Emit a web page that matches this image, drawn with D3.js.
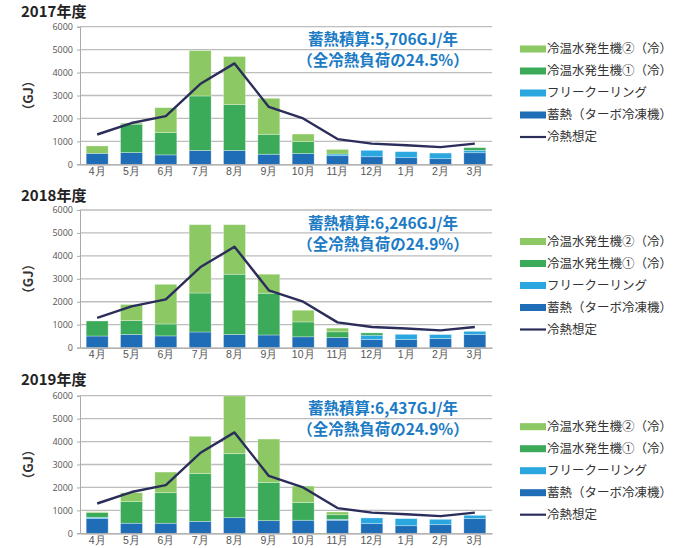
<!DOCTYPE html>
<html><head><meta charset="utf-8">
<script src="https://cdn.jsdelivr.net/npm/d3@7"></script>
<style>
html,body{margin:0;padding:0;background:#fff;}
svg{display:block;font-family:"Noto Sans CJK JP","Noto Sans",sans-serif;}
</style></head>
<body>
<svg id="chart" width="684" height="548"></svg>
<script>
const months = ['4月','5月','6月','7月','8月','9月','10月','11月','12月','1月','2月','3月'];
const yTicks = [0,1000,2000,3000,4000,5000,6000];
const seriesNames = ['蓄熱（ターボ冷凍機）','フリークーリング','冷温水発生機①（冷）','冷温水発生機②（冷）'];
const legendLabels = ['冷温水発生機②（冷）','冷温水発生機①（冷）','フリークーリング','蓄熱（ターボ冷凍機）','冷熱想定'];
const lineName = '冷熱想定';

const years = ['2017年度','2018年度','2019年度'];
const totals = ['蓄熱積算:5,706GJ/年','蓄熱積算:6,246GJ/年','蓄熱積算:6,437GJ/年'];
const shares = ['（全冷熱負荷の24.5%）','（全冷熱負荷の24.9%）','（全冷熱負荷の24.9%）'];

// 2017
const storage2017 = [480,510,410,600,600,440,470,375,330,290,245,505];
const free2017    = [0,0,0,0,0,0,0,75,280,260,245,105];
const gen1_2017   = [0,1240,970,2380,2000,870,520,0,0,0,0,115];
const gen2_2017   = [320,50,1090,1980,2100,1570,330,200,0,0,0,0];
// 2018
const storage2018 = [505,570,510,680,570,550,470,440,350,350,395,570];
const free2018    = [0,0,0,0,0,0,0,0,190,230,175,140];
const gen1_2018   = [655,610,520,1700,2630,1820,650,250,100,0,0,0];
const gen2_2018   = [0,700,1730,2980,2160,830,510,160,0,0,0,0];
// 2019
const storage2019 = [640,440,440,520,680,550,570,570,420,330,375,640];
const free2019    = [60,0,0,0,0,0,0,40,250,310,235,145];
const gen1_2019   = [200,940,1330,2080,2790,1670,770,200,0,0,0,0];
const gen2_2019   = [40,390,900,1630,2520,1890,720,120,0,0,0,0];
// cooling demand estimate (same each year)
const demand = [1300,1800,2100,3500,4400,2500,2000,1100,900,830,750,900];

const panelsData = [
  [storage2017, free2017, gen1_2017, gen2_2017],
  [storage2018, free2018, gen1_2018, gen2_2018],
  [storage2019, free2019, gen1_2019, gen2_2019]
];

const colors = ['#1f6db6','#2aa7df','#3bab5a','#8cc863'];
const legendColors = ['#8cc863','#3bab5a','#2aa7df','#1f6db6'];
const lineColor = '#2b2d5a';

const svg = d3.select('#chart');
const plotTops = [26.7, 210, 395.7];
const plotH = 137.6;
const titleBase = [17, 200.5, 385];
const legendOffsets = [22.3, 31.5, 31];
const x0 = 80, x1 = 492;

const x = d3.scaleBand().domain(months).range([x0, x1]).paddingInner(0.36).paddingOuter(0.18);

panelsData.forEach((series, pi) => {
  const top = plotTops[pi];
  const bottom = top + plotH;
  const y = d3.scaleLinear().domain([0, 6000]).range([bottom, top]);
  const g = svg.append('g');

  // title
  g.append('text').attr('x', 21).attr('y', titleBase[pi])
    .attr('font-size', 15).attr('font-weight', 'bold').attr('fill', '#222')
    .text(years[pi]);

  // gridlines
  g.append('g').selectAll('line').data(yTicks.slice(1)).join('line')
    .attr('x1', x0).attr('x2', x1)
    .attr('y1', d => y(d)).attr('y2', d => y(d))
    .attr('stroke', '#bdbdbd').attr('stroke-width', 1.3);

  // y axis
  const ya = d3.axisLeft(y).tickValues(yTicks).tickSize(3).tickPadding(4).tickFormat(d3.format('d'));
  const yg = g.append('g').attr('transform', `translate(${x0},0)`).call(ya);
  yg.select('.domain').attr('stroke', '#aaa');
  yg.selectAll('.tick line').attr('stroke', '#aaa');
  yg.selectAll('.tick text').attr('font-size', 9).attr('fill', '#555')
    .attr('font-family', '"Open Sans","Noto Sans",sans-serif');

  // y label
  g.append('text')
    .attr('transform', `translate(33,${(top + bottom) / 2}) rotate(-90)`)
    .attr('text-anchor', 'middle').attr('font-size', 13).attr('font-weight', 'bold').attr('fill', '#333')
    .text('（GJ）');

  // stacked bars
  const rows = months.map((m, i) => {
    const o = { month: m };
    seriesNames.forEach((s, k) => o[s] = series[k][i]);
    return o;
  });
  const stacked = d3.stack().keys(seriesNames)(rows);
  g.append('g').selectAll('g').data(stacked).join('g')
    .attr('fill', (d, k) => colors[k])
    .selectAll('rect').data(d => d.filter(v => v[1] - v[0] > 0)).join('rect')
    .attr('x', d => x(d.data.month))
    .attr('width', x.bandwidth())
    .attr('y', d => y(d[1]))
    .attr('height', d => y(d[0]) - y(d[1]))
    .attr('stroke', 'rgba(255,255,255,0.45)').attr('stroke-width', 0.7);

  // x axis
  const xa = d3.axisBottom(x).tickSize(0).tickPadding(3);
  const xg = g.append('g').attr('transform', `translate(0,${bottom})`).call(xa);
  xg.select('.domain').attr('stroke', '#999').attr('stroke-width', 1.2);
  xg.selectAll('.tick text').attr('font-size', 10.5).attr('fill', '#555');

  // line
  const line = d3.line().x((d, i) => x(months[i]) + x.bandwidth() / 2).y(d => y(d));
  g.append('path').datum(demand).attr('d', line)
    .attr('fill', 'none').attr('stroke', lineColor).attr('stroke-width', 2.4)
    .attr('stroke-linejoin', 'round');

  // annotation
  g.append('text').attr('x', 383).attr('y', top + 18.5).attr('text-anchor', 'middle')
    .attr('font-size', 15.5).attr('font-weight', 'bold').attr('fill', '#1b7bc4')
    .text(totals[pi]);
  g.append('text').attr('x', 383).attr('y', top + 39.5).attr('text-anchor', 'middle')
    .attr('font-size', 15.5).attr('font-weight', 'bold').attr('fill', '#1b7bc4')
    .text(shares[pi]);

  // legend
  const lg = g.append('g').attr('transform', `translate(520,${top + legendOffsets[pi]})`);
  legendLabels.forEach((lab, k) => {
    const yy = k * 22;
    if (k < 4) {
      lg.append('rect').attr('x', 0).attr('y', yy - 3.5).attr('width', 26).attr('height', 7).attr('fill', legendColors[k]);
    } else {
      lg.append('line').attr('x1', 0).attr('x2', 26).attr('y1', yy).attr('y2', yy)
        .attr('stroke', lineColor).attr('stroke-width', 2.2);
    }
    lg.append('text').attr('x', 27).attr('y', yy).attr('dy', '0.35em')
      .attr('font-size', 12.5).attr('fill', '#333').text(lab);
  });
});
</script>
</body></html>
